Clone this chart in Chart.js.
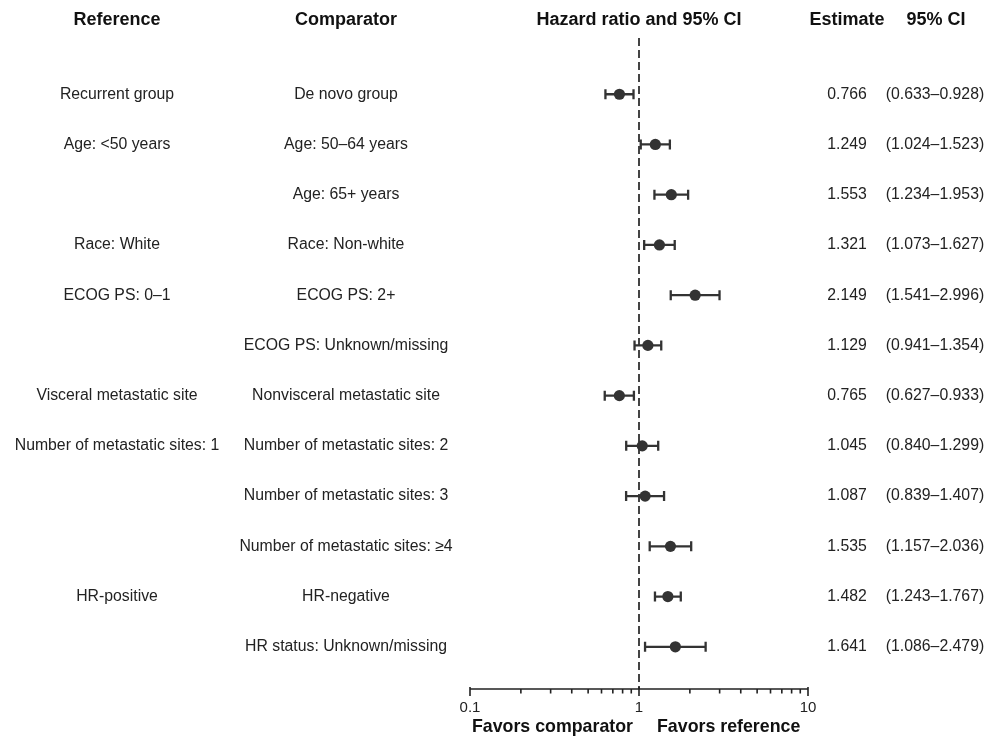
<!DOCTYPE html>
<html>
<head>
<meta charset="utf-8">
<script src="https://cdn.jsdelivr.net/npm/chart.js@4"></script>
<style>
html,body{margin:0;padding:0;background:#fff;}
canvas{display:block;}
</style>
</head>
<body>
<canvas id="c" width="1002" height="747"></canvas>
<script>
const referenceLabels = ["Recurrent group","Age: <50 years","","Race: White","ECOG PS: 0–1","","Visceral metastatic site","Number of metastatic sites: 1","","","HR-positive",""];
const comparatorLabels = ["De novo group","Age: 50–64 years","Age: 65+ years","Race: Non-white","ECOG PS: 2+","ECOG PS: Unknown/missing","Nonvisceral metastatic site","Number of metastatic sites: 2","Number of metastatic sites: 3","Number of metastatic sites: ≥4","HR-negative","HR status: Unknown/missing"];
const estimates = [0.766,1.249,1.553,1.321,2.149,1.129,0.765,1.045,1.087,1.535,1.482,1.641];
const lowerCI = [0.633,1.024,1.234,1.073,1.541,0.941,0.627,0.840,0.839,1.157,1.243,1.086];
const upperCI = [0.928,1.523,1.953,1.627,2.996,1.354,0.933,1.299,1.407,2.036,1.767,2.479];
const majorTicks = [0.1,1,10];
const minorTicks = [0.2,0.3,0.4,0.5,0.6,0.7,0.8,0.9,2,3,4,5,6,7,8,9];
const headers = ["Reference","Comparator","Hazard ratio and 95% CI","Estimate","95% CI"];
const footerLeft = "Favors comparator";
const footerRight = "Favors reference";

const FONT = "'Liberation Sans', Arial, Helvetica, sans-serif";
const INK = "#333333";

const forestPlugin = {
  id: 'forest',
  beforeDatasetsDraw(chart) {
    const ctx = chart.ctx;
    const xs = chart.scales.x, ys = chart.scales.y;
    const area = chart.chartArea;
    ctx.save();
    const x1 = xs.getPixelForValue(1);
    ctx.strokeStyle = '#444';
    ctx.lineWidth = 2;
    ctx.setLineDash([8, 4]);
    ctx.beginPath();
    ctx.moveTo(x1, area.top - 6);
    ctx.lineTo(x1, area.bottom);
    ctx.stroke();
    ctx.setLineDash([]);
    ctx.strokeStyle = INK;
    ctx.lineWidth = 2.3;
    for (let i = 0; i < estimates.length; i++) {
      const y = ys.getPixelForValue(i + 1);
      const xl = xs.getPixelForValue(lowerCI[i]);
      const xu = xs.getPixelForValue(upperCI[i]);
      ctx.beginPath();
      ctx.moveTo(xl, y); ctx.lineTo(xu, y);
      ctx.moveTo(xl, y - 5); ctx.lineTo(xl, y + 5);
      ctx.moveTo(xu, y - 5); ctx.lineTo(xu, y + 5);
      ctx.stroke();
    }
    ctx.restore();
  },
  afterDraw(chart) {
    const ctx = chart.ctx;
    const xs = chart.scales.x, ys = chart.scales.y;
    const area = chart.chartArea;
    const xOne = xs.getPixelForValue(1);
    ctx.save();
    const y0 = area.bottom;
    const xa = xs.getPixelForValue(majorTicks[0]);
    const xb = xs.getPixelForValue(majorTicks[majorTicks.length - 1]);
    ctx.strokeStyle = '#222';
    ctx.lineWidth = 1.6;
    ctx.beginPath();
    ctx.moveTo(xa, y0); ctx.lineTo(xb, y0);
    majorTicks.forEach(v => { const x = xs.getPixelForValue(v); ctx.moveTo(x, y0 - 2); ctx.lineTo(x, y0 + 7); });
    minorTicks.forEach(v => { const x = xs.getPixelForValue(v); ctx.moveTo(x, y0); ctx.lineTo(x, y0 + 4.5); });
    ctx.stroke();
    ctx.fillStyle = '#222';
    ctx.font = "15px " + FONT;
    ctx.textAlign = 'center';
    ctx.textBaseline = 'middle';
    majorTicks.forEach(v => ctx.fillText(String(v), xs.getPixelForValue(v), y0 + 19));
    ctx.font = "bold 17.8px " + FONT;
    ctx.fillStyle = '#111';
    ctx.textAlign = 'right';
    ctx.fillText(footerLeft, xOne - 6, y0 + 38);
    ctx.textAlign = 'left';
    ctx.fillText(footerRight, xOne + 18, y0 + 38);
    const colX = [117, 346, xOne, 847, 936];
    const yh = ys.getPixelForValue(-0.5) + 1;
    ctx.textAlign = 'center';
    ctx.font = "bold 18px " + FONT;
    headers.forEach((h, k) => ctx.fillText(h, colX[k], yh));
    ctx.font = "15.8px " + FONT;
    ctx.fillStyle = '#222';
    for (let i = 0; i < estimates.length; i++) {
      const y = ys.getPixelForValue(i + 1);
      if (referenceLabels[i]) ctx.fillText(referenceLabels[i], colX[0], y);
      ctx.fillText(comparatorLabels[i], colX[1], y);
      ctx.fillText(estimates[i].toFixed(3), colX[3], y);
      ctx.fillText('(' + lowerCI[i].toFixed(3) + '–' + upperCI[i].toFixed(3) + ')', colX[4] - 1, y);
    }
    ctx.restore();
  }
};

new Chart(document.getElementById('c'), {
  type: 'scatter',
  data: {
    datasets: [{
      data: estimates.map((v, i) => ({ x: v, y: i + 1 })),
      pointRadius: 5.6,
      pointHoverRadius: 5.6,
      backgroundColor: INK,
      borderColor: INK,
      borderWidth: 0
    }]
  },
  options: {
    responsive: false,
    animation: false,
    devicePixelRatio: 1,
    layout: { padding: { left: 470, right: 194, top: 44, bottom: 58 } },
    plugins: { legend: { display: false }, tooltip: { enabled: false } },
    scales: {
      x: { type: 'logarithmic', min: 0.1, max: 10, display: false },
      y: { type: 'linear', min: 0, max: 12.84, reverse: true, display: false }
    }
  },
  plugins: [forestPlugin]
});
</script>
</body>
</html>
